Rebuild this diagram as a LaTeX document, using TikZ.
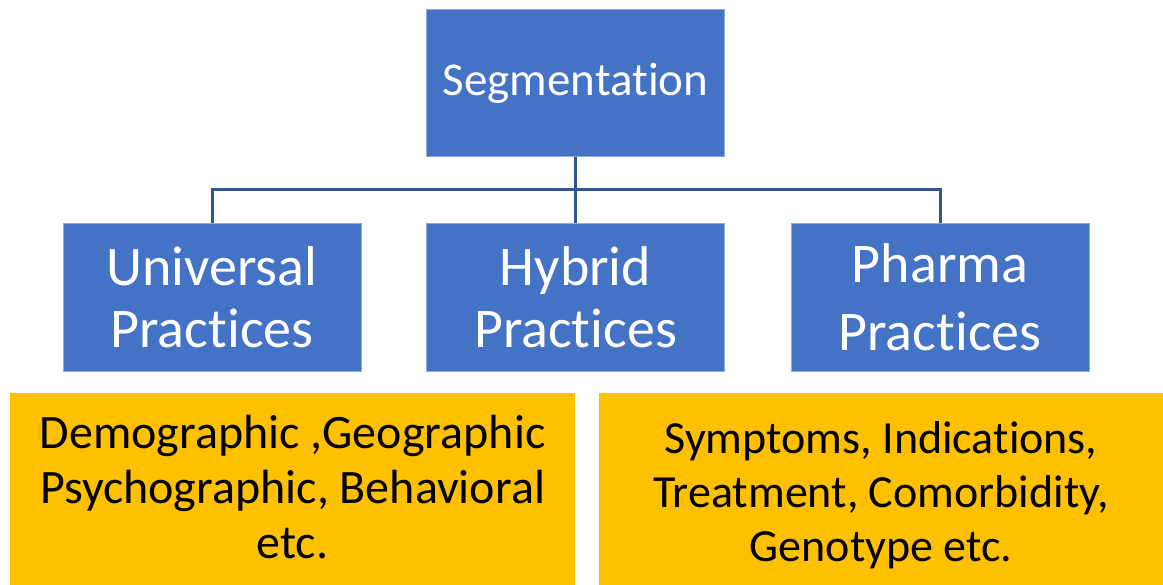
\documentclass[tikz,border=0pt]{standalone}
\usepackage{fontspec}
\setmainfont[Ligatures=NoCommon]{Carlito}
\definecolor{boxblue}{HTML}{4472C4}
\definecolor{boxedge}{HTML}{8FAADC}
\definecolor{linkblue}{HTML}{2F5597}
\definecolor{gold}{HTML}{FFC000}
\begin{document}
\begin{tikzpicture}[x=1pt,y=-1pt,
  catbox/.style={draw=boxedge, line width=0.8pt, fill=boxblue, text=white,
    inner sep=0pt, align=center, minimum width=298pt, minimum height=148pt},
  infobox/.style={fill=gold, inner sep=0pt, minimum height=192pt},
  infotext/.style={text=black, inner sep=0pt, align=center},
  link/.style={draw=linkblue, line width=3pt}]
\useasboundingbox (0,0) rectangle (1163,585);

% root of the hierarchy
\node[catbox, minimum height=147pt, font=\fontsize{47}{56}\selectfont]
  (seg) at (575.5,83) {Segmentation};

% three practice groups
\node[catbox, font=\fontsize{56}{62}\selectfont] (uni) at (212,297) {Universal\\Practices};
\node[catbox, font=\fontsize{56}{62}\selectfont] (hyb) at (575.5,297) {Hybrid\\Practices};
\node[catbox, font=\fontsize{56}{68}\selectfont] (pha) at (940,297) {Pharma\\Practices};

% connector tree
\coordinate (bus) at (575.5,190);
\draw[link] (seg.south) -- (hyb.north);
\draw[link] (uni.north) -- (uni.north |- bus) -- (pha.north |- bus) -- (pha.north);

% segmentation criteria
\node[infobox, minimum width=565pt] (crit1) at (292.5,489) {};
\node[infobox, minimum width=564pt] (crit2) at (881,489) {};
\node[infotext, font=\fontsize{48}{55}\selectfont] (crit1txt) at ([yshift=2pt]crit1.center)
  {Demographic ,Geographic\\Psychographic, Behavioral\\etc.};
\node[infotext, font=\fontsize{46}{54}\selectfont] (crit2txt) at ([yshift=-6pt]crit2.center)
  {Symptoms, Indications,\\Treatment, Comorbidity,\\Genotype etc.};
\end{tikzpicture}
\end{document}
